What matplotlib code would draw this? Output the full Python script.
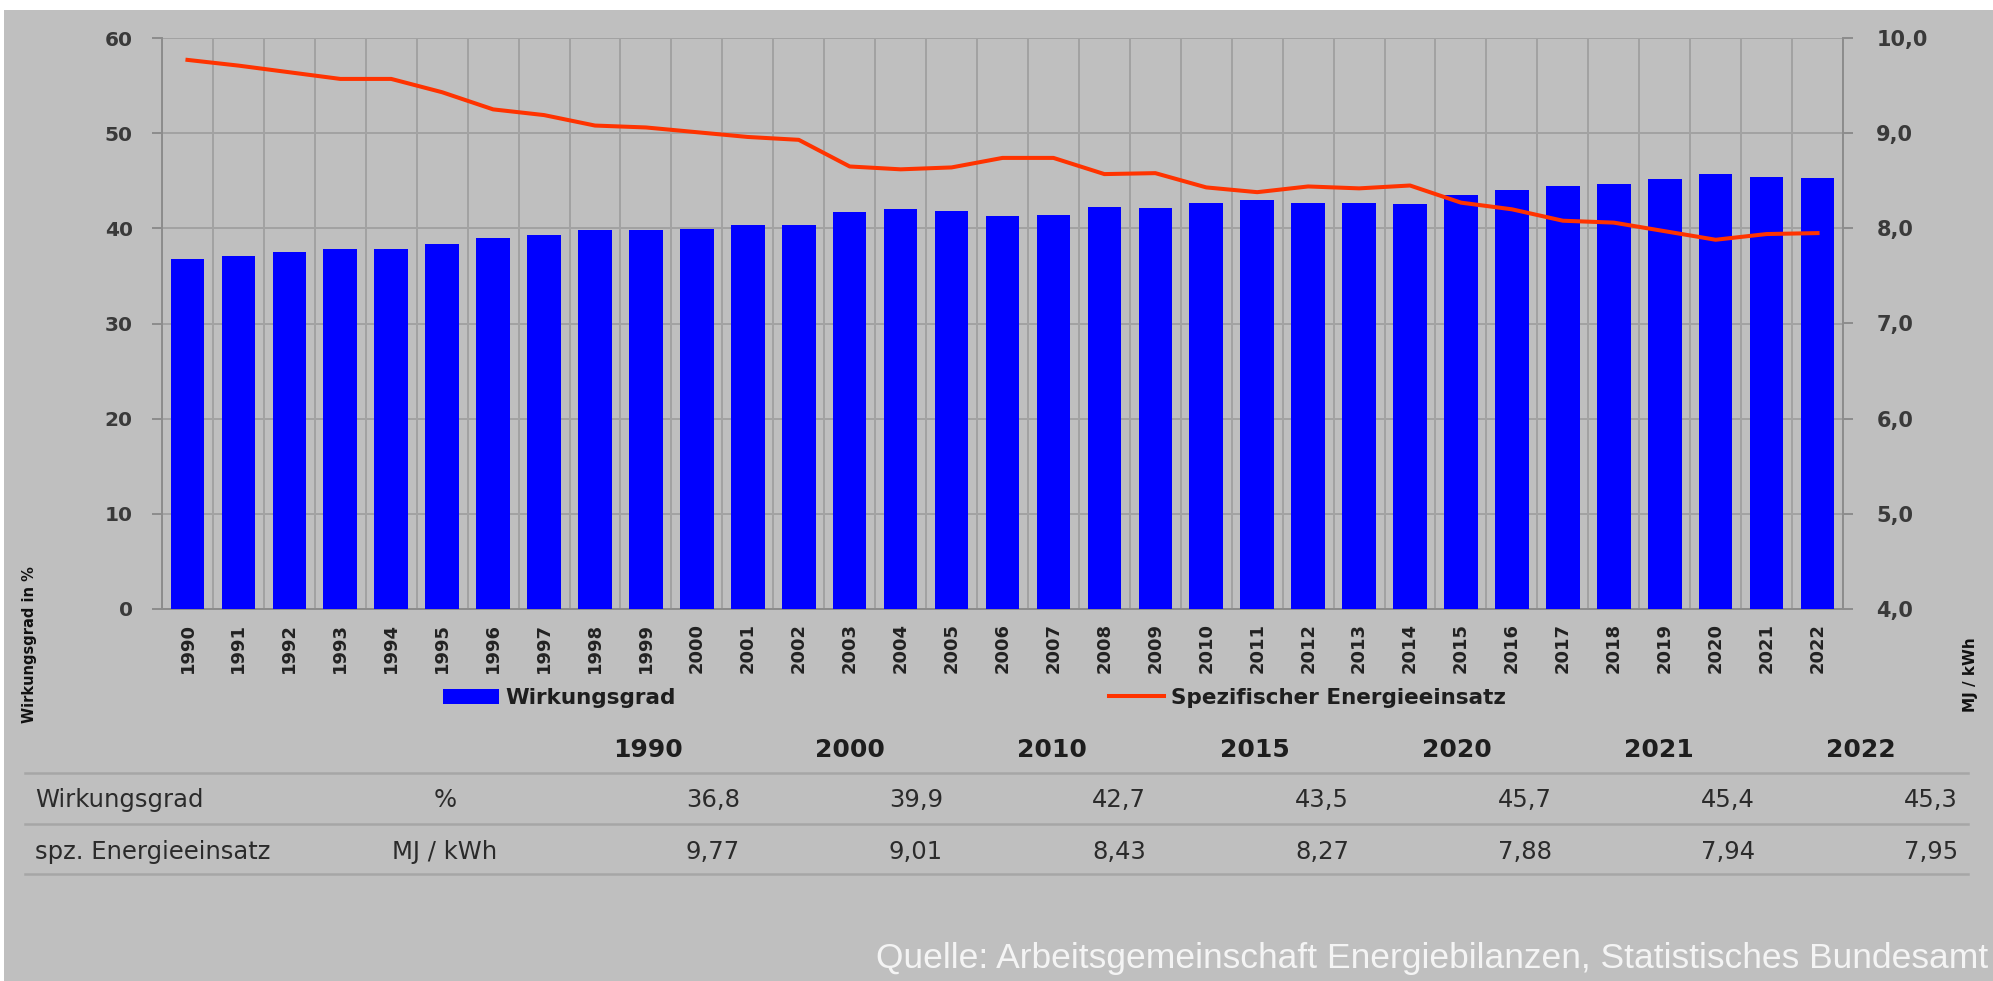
import matplotlib
matplotlib.use("Agg")
import matplotlib.pyplot as plt
import numpy as np
from matplotlib.patches import Rectangle, Patch
from matplotlib.lines import Line2D

plt.rcParams["font.family"] = ["DejaVu Sans"]

# ---------------- data ----------------
years = [1990, 1991, 1992, 1993, 1994, 1995, 1996, 1997, 1998, 1999, 2000,
         2001, 2002, 2003, 2004, 2005, 2006, 2007, 2008, 2009, 2010, 2011,
         2012, 2013, 2014, 2015, 2016, 2017, 2018, 2019, 2020, 2021, 2022]
wirkungsgrad = [36.8, 37.1, 37.5, 37.8, 37.8, 38.4, 39.0, 39.3, 39.8, 39.8, 39.9,
                40.3, 40.3, 41.7, 42.0, 41.8, 41.3, 41.4, 42.2, 42.1, 42.7, 43.0,
                42.7, 42.7, 42.6, 43.5, 44.0, 44.5, 44.7, 45.2, 45.7, 45.4, 45.3]
energieeinsatz = [9.77, 9.71, 9.64, 9.57, 9.57, 9.43, 9.25, 9.19, 9.08, 9.06, 9.01,
                  8.96, 8.93, 8.65, 8.62, 8.64, 8.74, 8.74, 8.57, 8.58, 8.43, 8.38,
                  8.44, 8.42, 8.45, 8.27, 8.20, 8.08, 8.06, 7.97, 7.88, 7.94, 7.95]

left_ticks = [0, 10, 20, 30, 40, 50, 60]
right_ticks = [4, 5, 6, 7, 8, 9, 10]

table_years = ["1990", "2000", "2010", "2015", "2020", "2021", "2022"]
table_wirkungsgrad = [36.8, 39.9, 42.7, 43.5, 45.7, 45.4, 45.3]
table_energie = [9.77, 9.01, 8.43, 8.27, 7.88, 7.94, 7.95]

source = "Quelle: Arbeitsgemeinschaft Energiebilanzen, Statistisches Bundesamt"

# ---------------- style ----------------
W, H = 1993, 981
BG = "#bfbfbf"
GRID = "#a2a2a2"
BLUE = "#0000ff"
RED = "#ff3300"
TXT = "#2b2b2b"


def fx(px):
    return px / W


def fy(py):
    return 1 - py / H


fig = plt.figure(figsize=(W / 100, H / 100), dpi=100)
fig.patch.set_facecolor("white")
fig.patches.append(Rectangle((fx(4), 0), 1, fy(10), transform=fig.transFigure,
                             facecolor=BG, edgecolor="none", zorder=-10))

ax = fig.add_axes([fx(162), fy(609), fx(1843 - 162), (609 - 38) / H])
ax.patch.set_visible(False)
x = np.arange(len(years))
ax.bar(x, wirkungsgrad, width=0.66, color=BLUE, zorder=3)
ax.set_xlim(-0.5, len(years) - 0.5)
ax.set_ylim(0, 60)
ax.set_yticks(left_ticks)
ax.set_yticklabels([str(t) for t in left_ticks])
ax.set_xticks(x)
ax.set_xticklabels([str(y) for y in years], rotation=90, fontsize=13,
                   fontweight="bold", color="#222222")
ax.set_xticks(np.arange(-0.5, len(years), 1), minor=True)
ax.set_axisbelow(True)
ax.yaxis.grid(True, color=GRID, lw=1.4)
ax.xaxis.grid(True, which="minor", color=GRID, lw=1.4)
ax.xaxis.grid(False, which="major")
ax.tick_params(axis="x", which="both", length=0, pad=10)
ax.tick_params(axis="y", length=7, width=1.4, color="#8c8c8c", pad=14,
               labelsize=14.5, labelcolor="#3a3a3a")
for lab in ax.get_yticklabels():
    lab.set_fontweight("bold")
for s in ["top", "right"]:
    ax.spines[s].set_visible(False)
for s in ["left", "bottom"]:
    ax.spines[s].set_color("#8c8c8c")
    ax.spines[s].set_linewidth(1.4)

ax2 = ax.twinx()
ax2.patch.set_visible(False)
ax2.plot(x, energieeinsatz, color=RED, lw=2.9, zorder=5, solid_joinstyle="round")
ax2.set_ylim(4, 10)
ax2.set_yticks(right_ticks)
ax2.set_yticklabels([f"{t:.1f}".replace(".", ",") for t in right_ticks])
ax2.tick_params(axis="y", length=7, width=1.4, color="#8c8c8c", pad=17,
                labelsize=15, labelcolor="#3a3a3a")
for lab in ax2.get_yticklabels():
    lab.set_fontweight("bold")
for s in ["top", "left", "bottom"]:
    ax2.spines[s].set_visible(False)
ax2.spines["right"].set_color("#8c8c8c")
ax2.spines["right"].set_linewidth(1.4)

# axis titles
fig.text(fx(30), fy(645), "Wirkungsgrad in %", rotation=90, ha="center", va="center",
         fontsize=10.5, fontweight="bold", color="#111111")
fig.text(fx(1970), fy(675), "MJ / kWh", rotation=90, ha="center", va="center",
         fontsize=11, fontweight="bold", color="#111111")

# legend
handles = [Patch(facecolor=BLUE, edgecolor="none"), Line2D([], [], color=RED, lw=2.9)]
fig.legend(handles, ["Wirkungsgrad", "Spezifischer Energieeinsatz"],
           loc="center left", bbox_to_anchor=(fx(443), fy(698)), ncol=2,
           frameon=False, borderpad=0, borderaxespad=0, handlelength=2.6,
           handletextpad=0.3, columnspacing=20.1,
           prop=dict(size=15.5, weight="bold"), labelcolor="#1e1e1e")

# table
for ly in [773, 824, 874]:
    fig.add_artist(Line2D([fx(25), fx(1968)], [fy(ly), fy(ly)], color="#a6a6a6",
                          lw=1.8, transform=fig.transFigure))

head_cx = 648 + 202.2 * np.arange(len(table_years))
val_rx = 740 + 203 * np.arange(len(table_years))
for cx, yr in zip(head_cx, table_years):
    fig.text(fx(cx), fy(750), yr, ha="center", va="center", fontsize=18,
             fontweight="bold", color="#1e1e1e")

rows = [("Wirkungsgrad", "%", [f"{v:.1f}".replace(".", ",") for v in table_wirkungsgrad], 800),
        ("spz. Energieeinsatz", "MJ / kWh", [f"{v:.2f}".replace(".", ",") for v in table_energie], 852)]
for name, unit, vals, ry in rows:
    fig.text(fx(35), fy(ry), name, ha="left", va="center", fontsize=17.5, color=TXT)
    fig.text(fx(445), fy(ry), unit, ha="center", va="center", fontsize=17.5, color=TXT)
    for rx, v in zip(val_rx, vals):
        fig.text(fx(rx), fy(ry), v, ha="right", va="center", fontsize=17.5, color=TXT)

# source
fig.text(fx(1988), fy(975), source, ha="right", va="bottom", fontsize=25.5,
         color="#f4f4f4", family=["Liberation Sans", "DejaVu Sans"])

fig.savefig("out.png", dpi=100)
